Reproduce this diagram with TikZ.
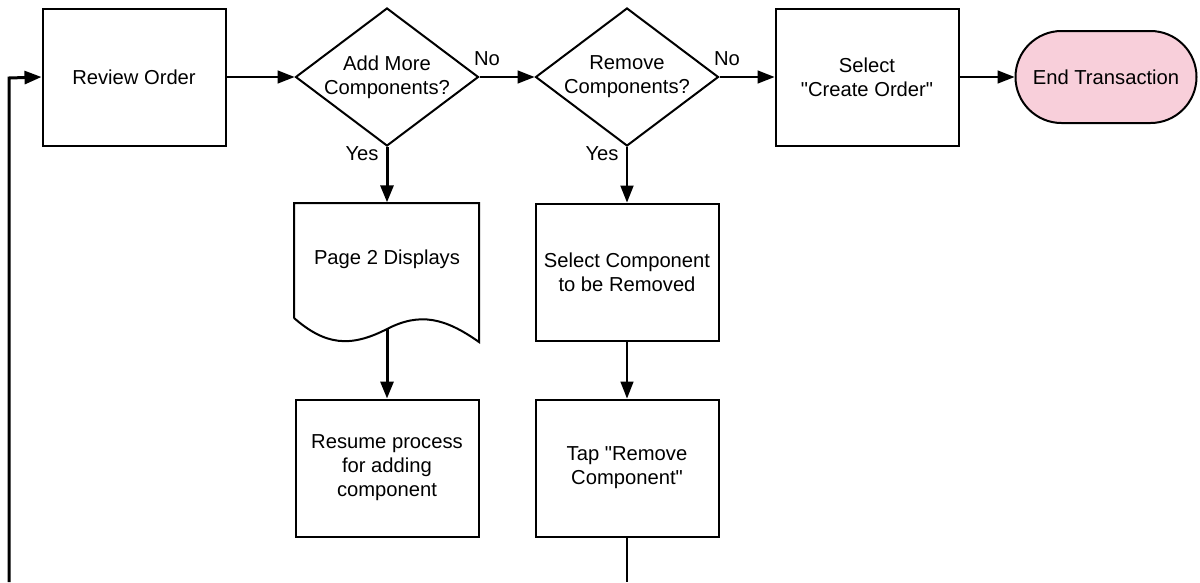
\documentclass[tikz,border=0pt]{standalone}
\usepackage{fontspec}
\setmainfont{Liberation Sans}[Ligatures=TeXOff]
\usetikzlibrary{arrows.meta,shapes.geometric}
\definecolor{endpink}{HTML}{F8CFDA}
\begin{document}
\begin{tikzpicture}[x=1pt,y=-1pt,
  every node/.style={font=\fontsize{20.2}{24}\selectfont, align=center},
  box/.style={draw, line width=2pt, rectangle, minimum width=183pt, minimum height=137pt, inner sep=0pt},
  dec/.style={draw, line width=2pt, diamond, minimum width=183pt, minimum height=138pt, inner sep=0pt},
  lbl/.style={font=\fontsize{20.2}{24}\selectfont, inner sep=0pt},
  thin/.style={line width=1.5pt, -{Triangle[length=17pt,width=13pt]}},
  thick/.style={line width=3pt, -{Triangle[length=17pt,width=13pt]}},
  plain/.style={line width=1.5pt}]
\useasboundingbox (0,0) rectangle (1200,582);
\fill[white] (0,0) rectangle (1200,582);

\node[box] (review) at (134,77) {Review Order};
\node[dec] (d1) at (387,77) {};
\node at (d1.center) {Add More\\Components?};
\node[dec] (d2) at (627,77) {};
\node at (d2.center) {Remove\\Components?};
\node[box] (select) at (867,77) {Select\\"Create Order"};
\node[draw, line width=2pt, fill=endpink, rounded corners=46pt, minimum width=181pt, minimum height=92pt, inner sep=0pt] (end) at (1106,77) {End Transaction};

% document shape
\node[minimum width=185pt, minimum height=139pt, inner sep=0pt] (doc) at (387,272) {};
\node at (387,259) {Page 2 Displays};
\draw[line width=2pt] (294,318) -- (294,203) -- (479,203) -- (479,342)
  .. controls (445,318) and (420,312) .. (387,329)
  .. controls (350,348) and (325,345) .. (294,318);
\coordinate (docout) at (387,329);

\node[box] (selcomp) at (627,272) {Select Component\\to be Removed};
\node[box] (resume) at (387,468) {Resume process\\for adding\\component};
\node[box] (tap) at (627,468) {Tap "Remove\\Component"};

\coordinate (loopstart) at (9,582);
\coordinate (loopcorner) at (9,78);
\coordinate (tapend) at (627,582);

\draw[thick] (loopstart) -- (loopcorner) -- (review.west);
\draw[thin] (review.east) -- (d1.west);
\draw[thin] (d1.east) -- (d2.west);
\draw[thin] (d2.east) -- (select.west);
\draw[thin] (select.east) -- (end.west);
\draw[thick] (d1.south) -- (doc.north);
\draw[line width=2pt, -{Triangle[length=17pt,width=13pt]}] (d2.south) -- (selcomp.north);
\draw[thick] (docout) -- (resume.north);
\draw[thin] (selcomp.south) -- (tap.north);
\draw[plain] (tap.south) -- (tapend);

\node[lbl] (no1) at (487,59) {No};
\node[lbl] (yes1) at (362,154) {Yes};
\node[lbl] (no2) at (727,59) {No};
\node[lbl] (yes2) at (602,154) {Yes};
\end{tikzpicture}
\end{document}
